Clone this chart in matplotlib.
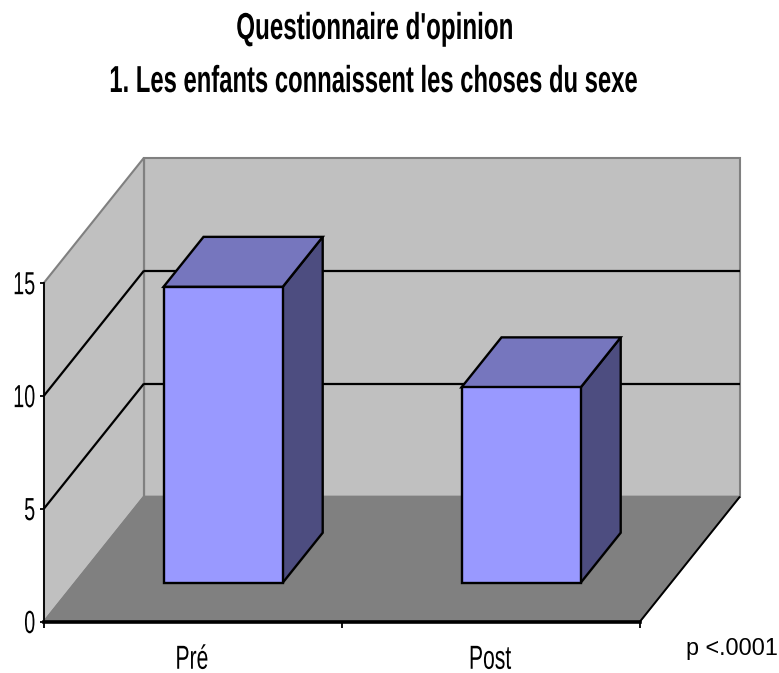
import matplotlib
matplotlib.use("Agg")
import matplotlib.pyplot as plt
from matplotlib.patches import Polygon
from matplotlib.lines import Line2D
from matplotlib.patheffects import AbstractPathEffect
from matplotlib.transforms import IdentityTransform, Affine2D

categories = ["Pré", "Post"]
values = [13.1, 8.65]
y_ticks = [0, 5, 10, 15]
title_lines = ["Questionnaire d'opinion", "1. Les enfants connaissent les choses du sexe"]
note = "p <.0001"

FONT = "Liberation Sans"


class Squeeze(AbstractPathEffect):
    """Reshape a text (narrow and tall), keeping its alignment point (frac of width)."""

    def __init__(self, sx, sy=1.0, frac=0.5, dx=0.0, dy=0.0):
        super().__init__()
        self.sx, self.sy, self.frac, self.dx, self.dy = sx, sy, frac, dx, dy

    def draw_path(self, renderer, gc, tpath, affine, rgbFace=None):
        w = tpath.get_extents().x1
        a = (Affine2D().scale(self.sx, self.sy).translate((1 - self.sx) * w * self.frac, 0)
             + affine + Affine2D().translate(self.dx, self.dy))
        renderer.draw_path(gc, tpath, a, rgbFace)


W, H = 779, 673
fig = plt.figure(figsize=(W / 100, H / 100), dpi=100, facecolor="white")
ax = fig.add_axes([44 / W, (H - 621.5) / H, 596 / W, 338.8 / H])
ax.set_xlim(0, len(categories))
ax.set_ylim(0, 15)
ax.patch.set_visible(False)

# depth projection: full depth in display pixels
DX, DY = 100, 125


def proj(x, y, d=0.0):
    px, py = ax.transData.transform((x, y))
    return (px + DX * d, py + DY * d)


def poly(pts, fc, ec, lw, z):
    ax.add_patch(Polygon([proj(*p) for p in pts], closed=True, facecolor=fc, edgecolor=ec,
                         linewidth=lw, transform=IdentityTransform(), clip_on=False,
                         zorder=z, joinstyle="miter"))


def seg(a, b, color, lw, z):
    p, q = proj(*a), proj(*b)
    ax.add_line(Line2D([p[0], q[0]], [p[1], q[1]], color=color, linewidth=lw,
                       transform=IdentityTransform(), clip_on=False, zorder=z,
                       solid_capstyle="butt"))


nx = len(categories)
ymax = y_ticks[-1]
WALL, FLOOR, EDGE = "#C0C0C0", "#808080", "#808080"

poly([(0, 0, 1), (nx, 0, 1), (nx, ymax, 1), (0, ymax, 1)], WALL, EDGE, 1.5, 1)
poly([(0, 0, 0), (0, 0, 1), (0, ymax, 1), (0, ymax, 0)], WALL, EDGE, 1.5, 1)
poly([(0, 0, 0), (nx, 0, 0), (nx, 0, 1), (0, 0, 1)], FLOOR, EDGE, 1.2, 2)
seg((nx, 0, 0), (nx, 0, 1), "black", 1.4, 3)
seg((0, 0, 1), (0, ymax, 1), EDGE, 1.5, 3)

for t in y_ticks[1:-1]:
    seg((0, t, 0), (0, t, 1), "black", 1.6, 3)
    seg((0, t, 1), (nx, t, 1), "black", 1.6, 3)

BAR_W = 0.4
BAR_C = 0.497
D0, D1 = 0.31, 0.71
for i, v in enumerate(values):
    x0, x1 = i + BAR_C - BAR_W / 2, i + BAR_C + BAR_W / 2
    poly([(x1, 0, D0), (x1, 0, D1), (x1, v, D1), (x1, v, D0)], "#4D4D80", "black", 1.7, 5)
    poly([(x0, v, D0), (x1, v, D0), (x1, v, D1), (x0, v, D1)], "#7676BE", "black", 1.7, 5)
    poly([(x0, 0, D0), (x1, 0, D0), (x1, v, D0), (x0, v, D0)], "#9999FF", "black", 1.7, 6)

for s in ("top", "right"):
    ax.spines[s].set_visible(False)
ax.spines["left"].set_linewidth(1.3)
ax.spines["bottom"].set_linewidth(2.6)
ax.spines["left"].set_zorder(8)
ax.spines["bottom"].set_zorder(8)

ax.set_yticks(y_ticks)
ax.set_yticklabels([str(t) for t in y_ticks], family=FONT, fontsize=23)
for lab in ax.get_yticklabels():
    lab.set_path_effects([Squeeze(0.62, 1.0, 1.0)])
ax.set_xticks(range(nx + 1))
ax.set_xticklabels([""] * (nx + 1))
ax.set_xticks([i + 0.5 for i in range(nx)], minor=True)
ax.set_xticklabels(categories, minor=True, family=FONT, fontsize=20)
for lab in ax.get_xticklabels(minor=True):
    lab.set_path_effects([Squeeze(0.76, 1.2, 0.5, dx=-1, dy=-12)])
ax.tick_params(axis="y", length=3, width=1.3, pad=3, direction="out")
ax.tick_params(axis="x", which="major", length=4.5, width=1.3, direction="out")
ax.tick_params(axis="x", which="minor", length=0, pad=11)

for txt, y, xc, sx in zip(title_lines, (39, 92), (375, 374), (0.741, 0.730)):
    t = fig.text(xc / W, 1 - y / H, txt, family=FONT, fontweight="bold", fontsize=23.5,
                 ha="center", va="baseline")
    t.set_path_effects([Squeeze(sx, 1.15)])
fig.text(731.5 / W, 1 - 648 / H, note, family=FONT, fontsize=16.8, ha="center", va="center")

fig.savefig("out.png", dpi=100)
